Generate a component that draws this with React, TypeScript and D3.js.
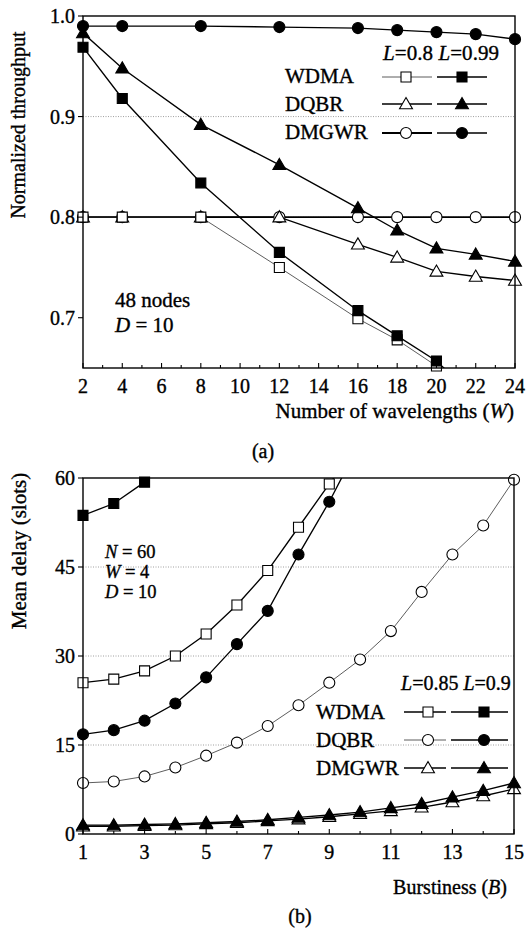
import * as d3 from "d3";

// ── panel (a): throughput vs number of wavelengths ──
const wavelengths = [2, 4, 8, 12, 16, 18, 20, 22, 24];
const wdmaL08 = [0.8, 0.8, 0.8, 0.75, 0.699, 0.678, 0.652, 0.61, 0.57];
const wdmaL099 = [0.969, 0.918, 0.834, 0.765, 0.707, 0.682, 0.657, 0.62, 0.58];
const dqbrL08 = [0.8, 0.8, 0.8, 0.8, 0.773, 0.76, 0.746, 0.741, 0.737];
const dqbrL099 = [0.983, 0.948, 0.892, 0.852, 0.809, 0.787, 0.769, 0.763, 0.756];
const dmgwrL08 = [0.8, 0.8, 0.8, 0.8, 0.8, 0.8, 0.8, 0.8, 0.8];
const dmgwrL099 = [0.99, 0.99, 0.99, 0.989, 0.988, 0.986, 0.984, 0.982, 0.977];
const topXTicks = [2, 4, 6, 8, 10, 12, 14, 16, 18, 20, 22, 24];
const topYTicks = [0.7, 0.8, 0.9, 1.0];

// ── panel (b): mean delay vs burstiness ──
const burstiness = [1, 2, 3, 4, 5, 6, 7, 8, 9, 10, 11, 12, 13, 14, 15];
const wdmaL085 = [25.5, 26.1, 27.5, 30.0, 33.7, 38.6, 44.4, 51.7, 59.0, 66];
const wdmaL09 = [53.7, 55.7, 59.3, 64];
const dqbrL085 = [8.6, 8.85, 9.7, 11.2, 13.2, 15.4, 18.2, 21.7, 25.5, 29.4, 34.2, 40.8, 47.1, 52.0, 59.7];
const dqbrL09 = [16.8, 17.5, 19.1, 22.0, 26.4, 32.0, 37.6, 47.1, 56.0, 66];
const dmgwrL085 = [1.3, 1.3, 1.4, 1.5, 1.7, 1.9, 2.2, 2.5, 2.9, 3.4, 3.9, 4.5, 5.4, 6.4, 7.6];
const dmgwrL09 = [1.5, 1.5, 1.6, 1.7, 1.9, 2.1, 2.4, 2.8, 3.2, 3.7, 4.4, 5.1, 6.2, 7.3, 8.6];
const botXTicks = [1, 3, 5, 7, 9, 11, 13, 15];
const botYTicks = [0, 15, 30, 45, 60];

const FONT = "Liberation Serif, DejaVu Serif, Times New Roman, serif";
const W = 527;
const H = 931;

type Shape = "square" | "triangle" | "circle";
type Series = { xs: number[]; ys: number[]; shape: Shape; filled: boolean; weight: "thin" | "normal" | "thick" };

const SYM = {
  square: d3.symbol().type(d3.symbolSquare).size(100),
  triangle: d3.symbol().type(d3.symbolTriangle).size(72),
  circle: d3.symbol().type(d3.symbolCircle).size(96),
};
const STROKE = { thin: 0.8, normal: 1.35, thick: 1.9 };

// text helper: serif, slightly heavier like the scanned figure
function T(props: any) {
  const { size = 20, children, style, ...rest } = props;
  return (
    <text {...rest} stroke="#000" strokeWidth={0.35} style={{ fontFamily: FONT, fontSize: size, ...(style || {}) }}>
      {children}
    </text>
  );
}

function Marker({ x, y, shape, filled }: { x: number; y: number; shape: Shape; filled: boolean }) {
  return (
    <path
      d={SYM[shape]() as string}
      transform={`translate(${x},${y + (shape === "triangle" ? 1 : 0)})`}
      fill={filled ? "#000" : "#fff"}
      stroke="#000"
      strokeWidth={1.1}
    />
  );
}

function Panel(props: {
  id: string;
  left: number; right: number; top: number; bottom: number;
  xDomain: [number, number]; yDomain: [number, number];
  xTicks: number[]; xMinor: number[]; yTicks: number[]; yFmt: (v: number) => string;
  series: Series[];
}) {
  const { id, left, right, top, bottom, xDomain, yDomain, xTicks, xMinor, yTicks, yFmt, series } = props;
  const x = d3.scaleLinear().domain(xDomain).range([left, right]);
  const y = d3.scaleLinear().domain(yDomain).range([bottom, top]);
  const line = d3.line<[number, number]>().x((d) => x(d[0])).y((d) => y(d[1]));
  const eps = 1e-9;
  return (
    <g>
      <defs>
        <clipPath id={id}>
          <rect x={left} y={top} width={right - left} height={bottom - top} />
        </clipPath>
      </defs>
      {/* grid */}
      {yTicks.slice(1, -1).map((t) => (
        <line key={"g" + t} x1={left} x2={right} y1={y(t)} y2={y(t)} stroke="#888" strokeWidth={0.8} strokeDasharray="1,1.5" />
      ))}
      {/* lines */}
      <g clipPath={`url(#${id})`}>
        {series.map((s, i) => (
          <path
            key={"l" + i}
            d={line(s.ys.map((v, j) => [s.xs[j], v] as [number, number])) as string}
            fill="none"
            stroke={s.weight === "thin" ? "#333" : "#000"}
            strokeWidth={STROKE[s.weight]}
          />
        ))}
      </g>
      {/* markers */}
      {series.map((s, i) =>
        s.ys.map((v, j) =>
          v >= yDomain[0] - eps && v <= yDomain[1] + eps ? (
            <Marker key={`m${i}-${j}`} x={x(s.xs[j])} y={y(v)} shape={s.shape} filled={s.filled} />
          ) : null
        )
      )}
      {/* frame */}
      <rect x={left} y={top} width={right - left} height={bottom - top} fill="none" stroke="#000" strokeWidth={1.4} />
      {/* x ticks (inward) */}
      {xMinor.map((t) => (
        <line key={"xm" + t} x1={x(t)} x2={x(t)} y1={bottom} y2={bottom - 3} stroke="#000" strokeWidth={1.1} />
      ))}
      {xTicks.map((t) => (
        <g key={"xt" + t}>
          <line x1={x(t)} x2={x(t)} y1={bottom} y2={bottom - 5} stroke="#000" strokeWidth={1.1} />
          <T x={x(t)} y={bottom + 25} textAnchor="middle">{t}</T>
        </g>
      ))}
      {/* y ticks (outward) */}
      {yTicks.map((t) => (
        <g key={"yt" + t}>
          <line x1={left - 5} x2={left} y1={y(t)} y2={y(t)} stroke="#000" strokeWidth={1.1} />
          <T x={left - 8} y={y(t)} dy="0.35em" textAnchor="end">{yFmt(t)}</T>
        </g>
      ))}
    </g>
  );
}

function LegendRow({ label, tx, ty, ly, shape, open, filled, openWeight }: {
  label: string; tx: number; ty: number; ly: number; shape: Shape;
  open: [number, number, number]; filled: [number, number, number]; openWeight: "thin" | "normal" | "thick";
}) {
  return (
    <g>
      <T x={tx} y={ty} size={21}>{label}</T>
      <line x1={open[0]} x2={open[1]} y1={ly} y2={ly} stroke={openWeight === "thin" ? "#333" : "#000"} strokeWidth={STROKE[openWeight]} />
      <Marker x={open[2]} y={ly} shape={shape} filled={false} />
      <line x1={filled[0]} x2={filled[1]} y1={ly} y2={ly} stroke="#000" strokeWidth={1.5} />
      <Marker x={filled[2]} y={ly} shape={shape} filled={true} />
    </g>
  );
}

export default function App() {
  const topSeries: Series[] = [
    { xs: wavelengths, ys: dmgwrL08, shape: "circle", filled: false, weight: "thick" },
    { xs: wavelengths, ys: dqbrL08, shape: "triangle", filled: false, weight: "normal" },
    { xs: wavelengths, ys: wdmaL08, shape: "square", filled: false, weight: "thin" },
    { xs: wavelengths, ys: wdmaL099, shape: "square", filled: true, weight: "normal" },
    { xs: wavelengths, ys: dqbrL099, shape: "triangle", filled: true, weight: "normal" },
    { xs: wavelengths, ys: dmgwrL099, shape: "circle", filled: true, weight: "normal" },
  ];
  const botSeries: Series[] = [
    { xs: burstiness, ys: dqbrL085, shape: "circle", filled: false, weight: "thin" },
    { xs: burstiness, ys: wdmaL085, shape: "square", filled: false, weight: "normal" },
    { xs: burstiness, ys: wdmaL09, shape: "square", filled: true, weight: "normal" },
    { xs: burstiness, ys: dqbrL09, shape: "circle", filled: true, weight: "normal" },
    { xs: burstiness, ys: dmgwrL085, shape: "triangle", filled: false, weight: "normal" },
    { xs: burstiness, ys: dmgwrL09, shape: "triangle", filled: true, weight: "normal" },
  ];
  const topMinor = d3.range(3, 24, 2);
  const botMinor = d3.range(2, 15, 2);
  const it = { fontStyle: "italic" };

  return (
    <svg width={W} height={H} style={{ position: "absolute", left: 0, top: 0, background: "#fff" }}>
      <Panel id="clipA" left={83} right={515} top={16} bottom={368}
        xDomain={[2, 24]} yDomain={[0.65, 1.0]} xTicks={topXTicks} xMinor={topMinor}
        yTicks={topYTicks} yFmt={d3.format(".1f")} series={topSeries} />
      <Panel id="clipB" left={83} right={514} top={478} bottom={834}
        xDomain={[1, 15]} yDomain={[0, 60]} xTicks={botXTicks} xMinor={botMinor}
        yTicks={botYTicks} yFmt={(v) => String(v)} series={botSeries} />

      {/* axis titles panel (a) */}
      <T transform="translate(25,125) rotate(-90)" textAnchor="middle">Normalized throughput</T>
      <T x={514} y={418} textAnchor="end" size={21}>
        Number of wavelengths (<tspan style={it}>W</tspan>)
      </T>
      <T x={263} y={458} textAnchor="middle">(a)</T>

      {/* legend panel (a) */}
      <T x={383} y={60} size={21} textLength={116} lengthAdjust="spacing">
        <tspan style={it}>L</tspan>=0.8 <tspan style={it}>L</tspan>=0.99
      </T>
      <LegendRow label="WDMA" tx={285} ty={83} ly={77} shape="square" open={[382, 432, 406]} filled={[437, 487, 462]} openWeight="thin" />
      <LegendRow label="DQBR" tx={285} ty={111} ly={104} shape="triangle" open={[382, 432, 406]} filled={[437, 487, 462]} openWeight="normal" />
      <LegendRow label="DMGWR" tx={285} ty={139} ly={133} shape="circle" open={[382, 432, 406]} filled={[437, 487, 462]} openWeight="thick" />

      <T x={115} y={307} size={21}>48 nodes</T>
      <T x={115} y={332} size={21}><tspan style={it}>D</tspan> = 10</T>

      {/* axis titles panel (b) */}
      <T transform="translate(26,551) rotate(-90)" textAnchor="middle" size={21}>Mean delay (slots)</T>
      <T x={507} y={894} textAnchor="end">
        Burstiness (<tspan style={it}>B</tspan>)
      </T>
      <T x={300} y={923} textAnchor="middle">(b)</T>

      {/* legend panel (b) */}
      <T x={401} y={690} size={20}>
        <tspan style={it}>L</tspan>=0.85 <tspan style={it}>L</tspan>=0.9
      </T>
      <LegendRow label="WDMA" tx={316} ty={719} ly={712} shape="square" open={[404, 446, 428]} filled={[451, 508, 484]} openWeight="normal" />
      <LegendRow label="DQBR" tx={316} ty={747} ly={740} shape="circle" open={[404, 446, 428]} filled={[451, 508, 484]} openWeight="thin" />
      <LegendRow label="DMGWR" tx={316} ty={775} ly={768} shape="triangle" open={[404, 446, 428]} filled={[451, 508, 484]} openWeight="normal" />

      <T x={105} y={558} size={18.5}><tspan style={it}>N</tspan> = 60</T>
      <T x={105} y={578} size={18.5}><tspan style={it}>W</tspan> = 4</T>
      <T x={105} y={598} size={18.5}><tspan style={it}>D</tspan> = 10</T>
    </svg>
  );
}
